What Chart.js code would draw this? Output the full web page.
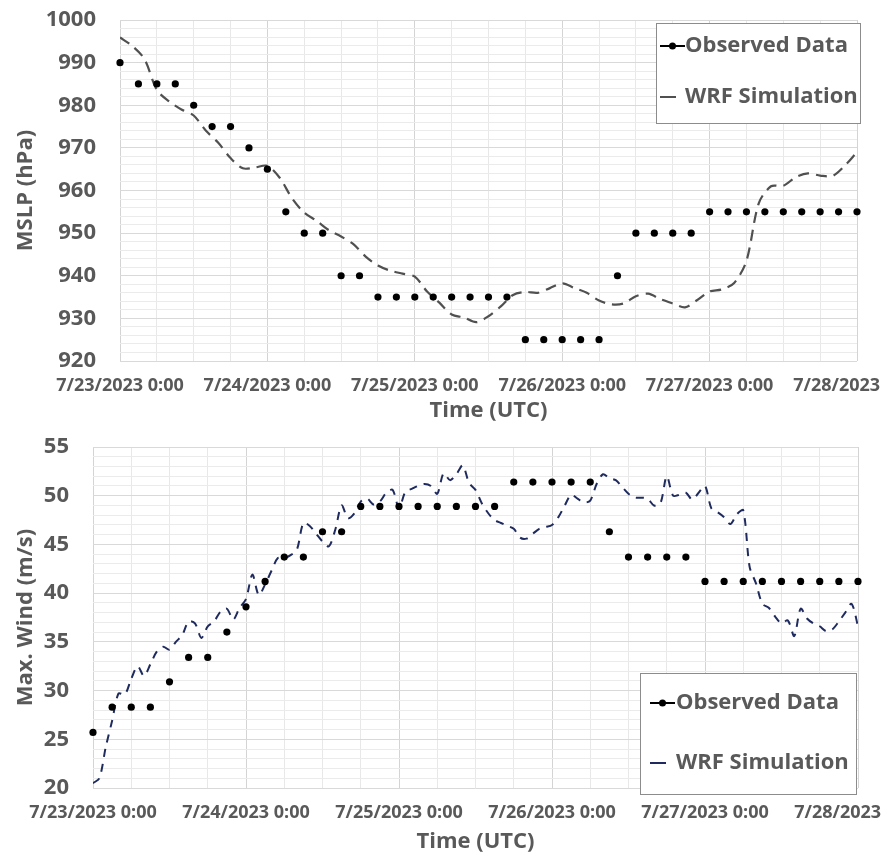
<!DOCTYPE html>
<html>
<head>
<meta charset="utf-8">
<script src="https://cdn.jsdelivr.net/npm/chart.js@4.4.1/dist/chart.umd.min.js"></script>
<style>
  body { margin: 0; background: #fff; }
  canvas { display: block; }
</style>
</head>
<body>
<canvas id="mslp" width="884" height="430"></canvas>
<canvas id="wind" width="884" height="429"></canvas>
<script>
// tick labels, one per day (hours 0, 24, ... 120)
const dayLabels = ['7/23/2023 0:00', '7/24/2023 0:00', '7/25/2023 0:00', '7/26/2023 0:00', '7/27/2023 0:00', '7/28/2023 0:00']

// observed data, every 3 hours from 7/23 0:00
const obsStepHours = 3
const obsMslp = [990, 985, 985, 985, 980, 975, 975, 970, 965, 955, 950, 950, 940, 940,
  935, 935, 935, 935, 935, 935, 935, 935, 925, 925, 925, 925, 925, 940,
  950, 950, 950, 950, 955, 955, 955, 955, 955, 955, 955, 955, 955]
const obsWind = [25.7, 28.3, 28.3, 28.3, 30.9, 33.4, 33.4, 36.0, 38.6, 41.2, 43.7, 43.7, 46.3, 46.3,
  48.9, 48.9, 48.9, 48.9, 48.9, 48.9, 48.9, 48.9, 51.4, 51.4, 51.4, 51.4, 51.4, 46.3,
  43.7, 43.7, 43.7, 43.7, 41.2, 41.2, 41.2, 41.2, 41.2, 41.2, 41.2, 41.2, 41.2]

// WRF run, MSLP every 2 hours
const wrfMslpStepHours = 2
const wrfMslp = [995.9, 993.9, 990.8, 983.6, 980.9, 979.0, 977.6, 974.0, 971.2, 967.6,
  965.2, 965.4, 965.8, 963.0, 958.2, 954.8, 952.9, 950.7, 949.2, 947.4,
  944.5, 942.4, 941.2, 940.5, 939.8, 936.3, 933.7, 930.9, 930.2, 929.1,
  930.5, 932.8, 935.5, 936.2, 936.0, 937.1, 938.2, 937.1, 936.0, 934.2,
  933.3, 933.5, 935.2, 935.8, 934.5, 933.5, 932.6, 934.3, 936.3, 936.8,
  938.3, 943.5, 957.0, 961.0, 961.1, 963.1, 964.0, 963.5, 963.4, 965.8, 969.0]

// WRF run, max wind every hour
const wrfWindStepHours = 1
const wrfWind = [20.5, 21.0, 24.2, 26.9, 29.7, 29.6, 31.2, 32.5, 31.5, 32.7,
  34.0, 34.5, 34.2, 35.0, 35.7, 37.1, 36.9, 35.4, 36.6, 37.1,
  38.1, 38.4, 37.3, 38.5, 39.4, 41.9, 39.8, 40.9, 42.3, 43.6,
  43.6, 43.9, 44.5, 47.2, 46.9, 46.1, 45.3, 44.8, 46.5, 49.0,
  47.7, 48.2, 49.4, 49.7, 49.1, 49.4, 50.3, 50.6, 48.7, 50.4,
  50.7, 51.0, 51.2, 51.0, 50.2, 52.3, 51.6, 52.2, 53.1, 51.3,
  50.6, 49.2, 48.2, 47.5, 47.2, 46.9, 46.6, 45.7, 45.6, 46.1,
  46.6, 46.8, 47.0, 47.8, 49.0, 50.1, 49.7, 49.3, 49.5, 51.2,
  52.2, 51.8, 51.6, 50.9, 50.2, 49.8, 49.8, 49.7, 49.0, 49.2,
  52.0, 50.0, 50.1, 50.3, 49.6, 50.3, 51.0, 48.7, 48.3, 47.8,
  47.1, 48.1, 48.5, 42.7, 41.0, 38.9, 38.5, 37.6, 36.9, 37.2,
  35.6, 38.4, 37.4, 36.9, 36.6, 36.1, 36.3, 37.1, 38.0, 38.9,
  36.6]

const FONT = '"Open Sans", "DejaVu Sans", sans-serif'
const GREY = '#595959'

const toPoints = (values, step) => values.map((v, i) => ({ x: i * step, y: v }))

// excel style legend box sitting inside the plot
const boxLegend = {
  id: 'boxLegend',
  afterDraw(chart, args, opts) {
    const ctx = chart.ctx
    const [bx, by, bw, bh] = opts.box
    ctx.save()
    ctx.fillStyle = '#fff'
    ctx.fillRect(bx, by, bw, bh)
    ctx.strokeStyle = '#8c8c8c'
    ctx.lineWidth = 1
    ctx.strokeRect(bx + 0.5, by + 0.5, bw, bh)
    ctx.font = 'bold 22px ' + FONT
    ctx.textBaseline = 'middle'
    chart.data.datasets.forEach((ds, i) => {
      const y = opts.rows[i]
      const x0 = bx + opts.symbolX
      ctx.strokeStyle = ds.borderColor
      ctx.lineWidth = 2
      ctx.beginPath()
      if (ds.showLine === false) {
        ctx.moveTo(x0, y)
        ctx.lineTo(x0 + 25, y)
        ctx.stroke()
        ctx.beginPath()
        ctx.arc(x0 + 12.5, y, 3.5, 0, Math.PI * 2)
        ctx.fillStyle = ds.pointBackgroundColor
        ctx.fill()
      } else {
        ctx.moveTo(x0, y)
        ctx.lineTo(x0 + 16, y)
        ctx.stroke()
      }
      ctx.fillStyle = GREY
      ctx.fillText(ds.label, bx + opts.textX, y)
    })
    ctx.restore()
  }
}

function makeChart(id, cfg) {
  return new Chart(document.getElementById(id), {
    type: 'line',
    data: {
      datasets: [{
        label: 'Observed Data',
        data: toPoints(cfg.obs, obsStepHours),
        showLine: false,
        borderColor: '#000',
        pointBackgroundColor: '#000',
        pointBorderWidth: 0,
        pointRadius: 3.6,
        clip: false
      }, {
        label: 'WRF Simulation',
        data: toPoints(cfg.wrf, cfg.wrfStep),
        borderColor: cfg.wrfColor,
        borderWidth: cfg.lineWidth,
        borderDash: cfg.dash,
        pointRadius: 0,
        tension: 0.3
      }]
    },
    options: {
      responsive: false,
      animation: false,
      layout: { padding: { top: cfg.areaTop, right: cfg.padRight, left: 0, bottom: 0 } },
      plugins: {
        legend: { display: false },
        tooltip: { enabled: false },
        boxLegend: cfg.legend
      },
      scales: {
        x: {
          type: 'linear',
          min: 0,
          max: 120,
          border: { display: false },
          grid: {
            drawTicks: false,
            color: c => c.tick.value % 24 === 0 ? '#d4d4d4' : '#e8e8e8'
          },
          ticks: {
            stepSize: 6,
            autoSkip: false,
            maxRotation: 0,
            padding: 14,
            color: GREY,
            font: { family: FONT, size: 18, weight: 'bold' },
            callback: v => v % 24 === 0 ? dayLabels[v / 24] : ''
          },
          title: {
            display: true,
            text: 'Time (UTC)',
            color: GREY,
            font: { family: FONT, size: 22, weight: 'bold' },
            padding: { top: 0, bottom: cfg.xTitlePad }
          },
          afterFit: s => { s.height = cfg.xAxisHeight; s.paddingLeft = 0; s.paddingRight = 0 }
        },
        y: {
          min: cfg.yMin,
          max: cfg.yMax,
          border: { display: false },
          grid: {
            drawTicks: false,
            color: c => c.tick.value % cfg.major === 0 ? '#d9d9d9' : '#ebebeb'
          },
          ticks: {
            stepSize: cfg.minor,
            autoSkip: false,
            padding: 24,
            color: GREY,
            font: { family: FONT, size: 22, weight: 'bold' },
            callback: v => v % cfg.major === 0 ? v : ''
          },
          title: {
            display: true,
            text: cfg.yTitle,
            color: GREY,
            font: { family: FONT, size: 22, weight: 'bold' },
            padding: { top: 13, bottom: 0 }
          },
          afterFit: s => { s.width = cfg.yAxisWidth; s.paddingTop = 0; s.paddingBottom = 0 }
        }
      }
    },
    plugins: [boxLegend]
  })
}

makeChart('mslp', {
  obs: obsMslp,
  wrf: wrfMslp,
  wrfStep: wrfMslpStepHours,
  wrfColor: '#505050',
  lineWidth: 2.2,
  dash: [11, 7],
  yMin: 920, yMax: 1000, minor: 2, major: 10,
  yTitle: 'MSLP (hPa)',
  yAxisWidth: 120, areaTop: 20, padRight: 27,
  xAxisHeight: 69, xTitlePad: 6,
  legend: { box: [656, 23, 204, 100], rows: [46, 97], symbolX: 4, textX: 29 }
})

makeChart('wind', {
  obs: obsWind,
  wrf: wrfWind,
  wrfStep: wrfWindStepHours,
  wrfColor: '#1f2b5e',
  lineWidth: 2,
  dash: [8, 7],
  yMin: 20, yMax: 55, minor: 1, major: 5,
  yTitle: 'Max. Wind (m/s)',
  yAxisWidth: 93, areaTop: 17, padRight: 26,
  xAxisHeight: 71, xTitlePad: 4,
  legend: { box: [640, 243, 216, 121], rows: [273, 333], symbolX: 10, textX: 36 }
})
</script>
</body>
</html>
